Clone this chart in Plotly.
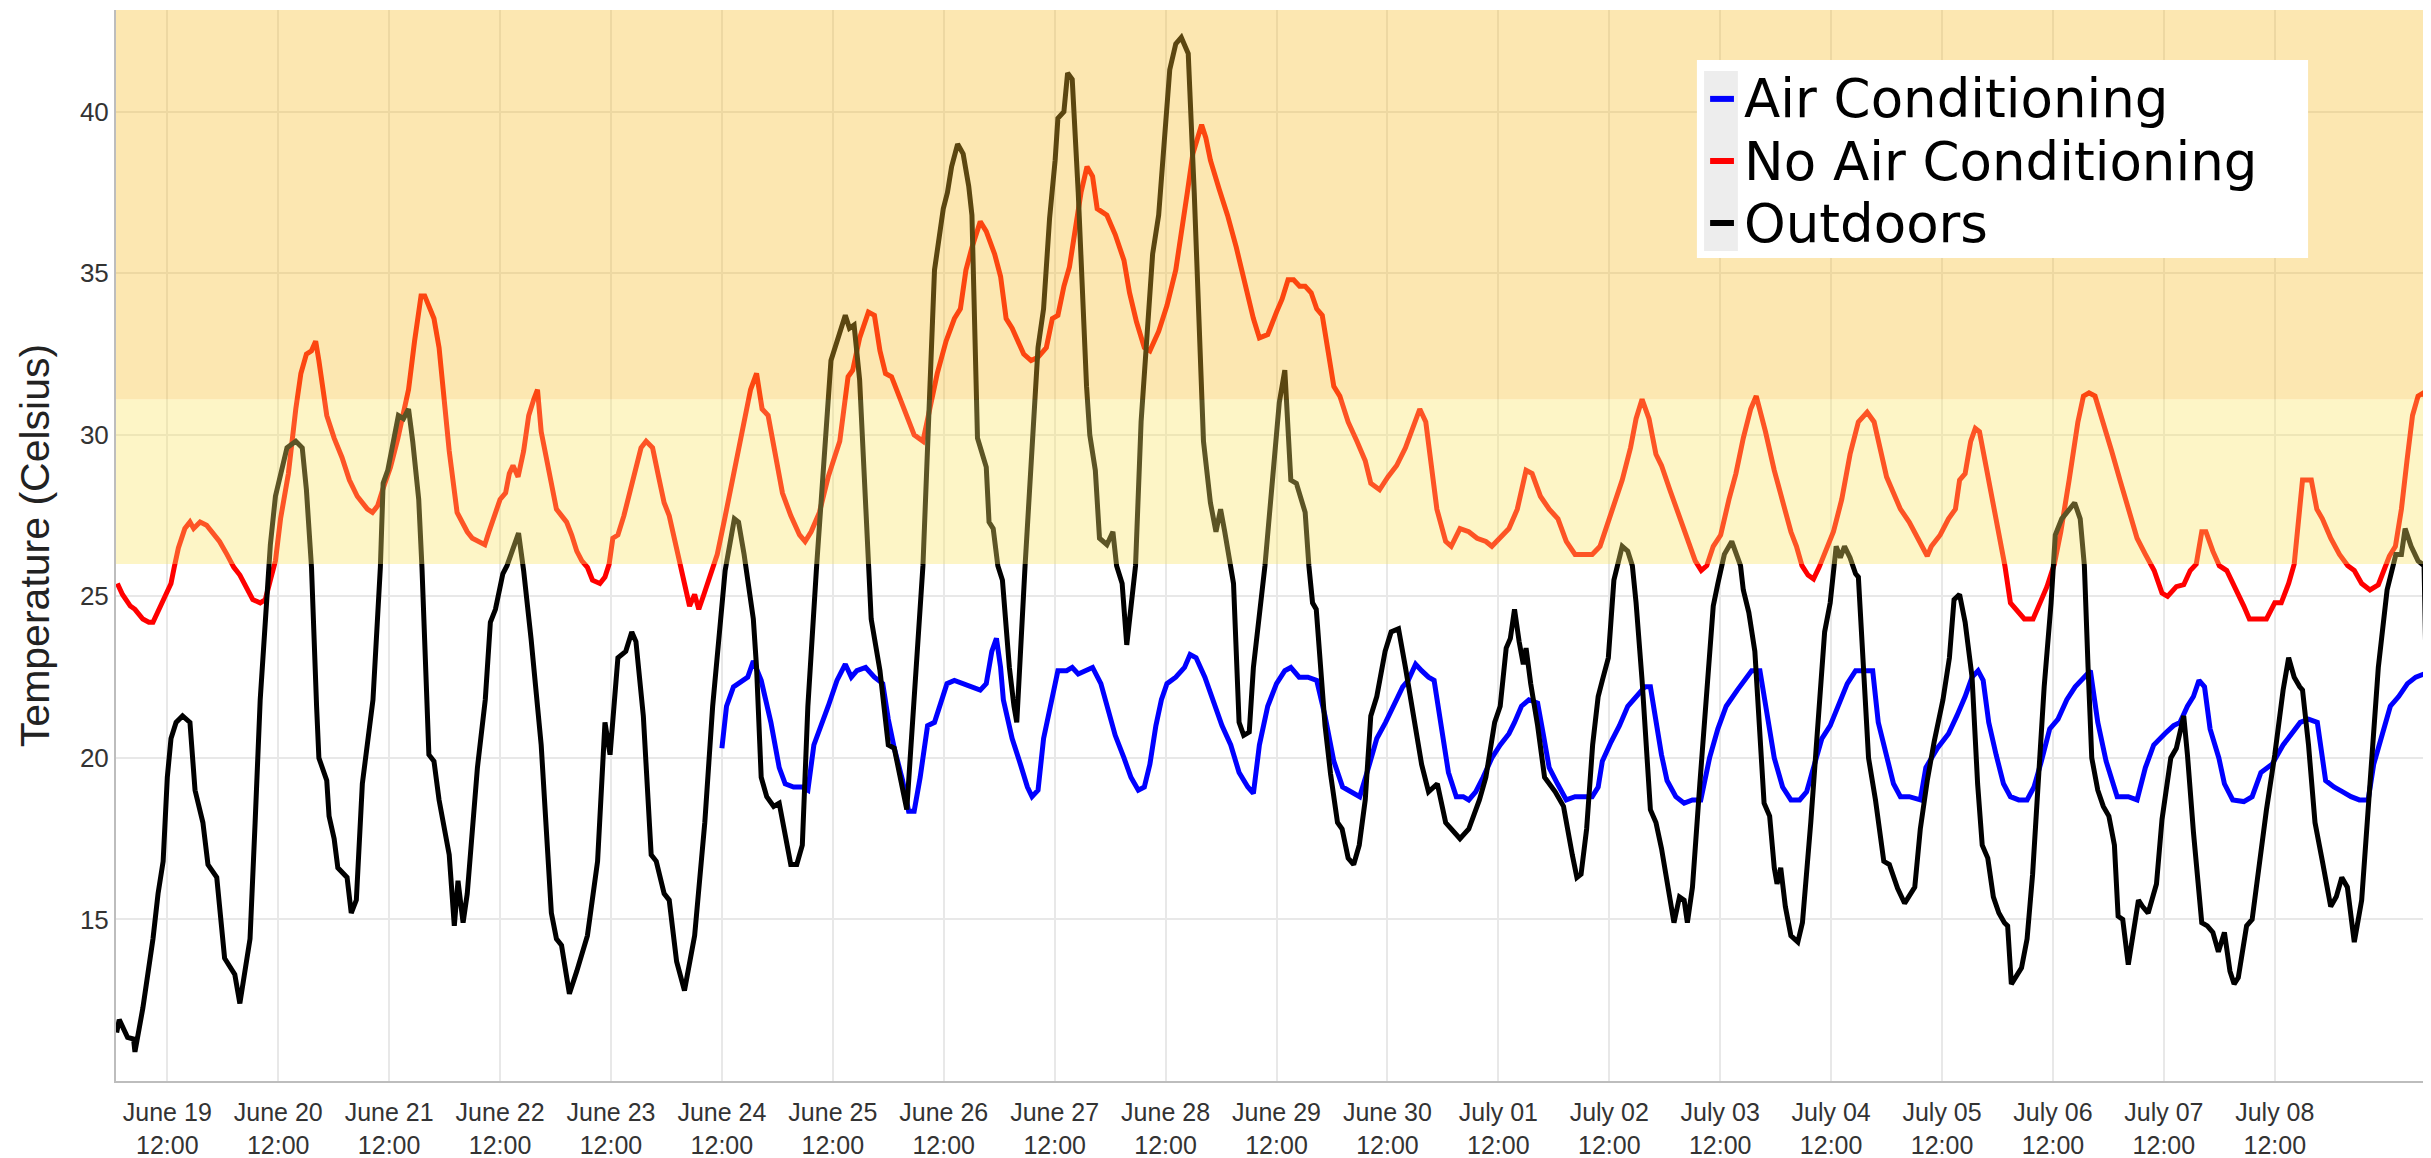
import pandas as pd
import plotly.graph_objects as go

START = pd.Timestamp("2015-06-19 00:00")

# ---------------- data (hours since June 19 00:00, temperature in Celsius) ----------------
outdoor_hours = [1.05, 1.6, 3.4, 4.7, 5.0, 6.7, 8.9, 10.0, 11.1, 12.0, 12.8, 13.9, 15.3, 16.9, 18.0, 19.7, 20.8, 22.7,
                 24.4, 26.6, 27.7, 29.9, 31.0, 32.1, 33.2, 34.3, 35.4, 36.6, 37.9, 39.8, 41.2, 42.1, 43.2, 44.3, 44.8,
                 46.5, 47.0, 48.1, 48.9, 50.9, 51.8, 52.9, 54.2, 56.5, 58.1, 58.7, 59.7, 62.0, 63.1, 64.2, 65.1, 66.4,
                 67.1, 68.6, 69.7, 70.8, 72.5, 73.0, 74.1, 74.9, 76.0, 76.9, 79.1, 80.8, 81.9, 83.0, 84.6, 85.5, 88.0,
                 89.1, 90.7, 92.9, 95.1, 96.2, 97.3, 99.0, 100.6, 102.9, 105.1, 106.7, 107.8, 109.5, 111.2, 112.5,
                 113.4, 115.0, 116.7, 117.8, 119.5, 120.6, 122.2, 123.9, 126.1, 128.3, 130.0, 131.6, 132.7, 134.7,
                 135.6, 136.8, 138.8, 139.5, 140.5, 141.7, 143.2, 144.4, 145.7, 146.9, 148.2, 149.4, 150.6, 152.5,
                 155.6, 157.5, 158.7, 159.6, 160.6, 161.8, 163.7, 164.3, 166.2, 168.0, 169.3, 170.5, 172.0, 175.5,
                 176.8, 178.0, 179.9, 180.8, 181.7, 183.0, 184.2, 185.4, 186.1, 187.3, 189.2, 189.8, 190.7, 191.7,
                 192.7, 194.2, 195.2, 195.8, 197.6, 198.5, 200.4, 201.6, 202.9, 204.1, 204.7, 206.0, 206.8, 207.8,
                 209.1, 210.9, 211.6, 212.8, 213.7, 215.3, 216.6, 217.4, 218.6, 219.6, 221.5, 222.7, 225.2, 226.5,
                 227.9, 228.9, 230.2, 231.4, 232.9, 234.2, 236.2, 237.7, 238.9, 239.9, 240.8, 242.0, 242.7, 243.9,
                 244.9, 246.1, 247.0, 249.5, 251.1, 252.6, 253.8, 255.1, 256.3, 258.2, 259.0, 259.8, 260.6, 262.5,
                 263.7, 265.2, 266.2, 267.5, 268.7, 269.9, 271.2, 272.4, 273.7, 275.5, 276.8, 278.4, 279.9, 281.8,
                 283.4, 284.9, 286.8, 288.6, 289.9, 291.7, 293.6, 295.9, 297.3, 299.2, 300.4, 301.7, 302.6, 303.5,
                 304.5, 305.4, 306.0, 307.0, 308.5, 310.0, 312.3, 314.1, 316.0, 317.0, 317.9, 319.1, 320.4, 321.6,
                 322.5, 323.8, 325.0, 326.8, 328.0, 329.0, 329.8, 331.1, 332.9, 334.1, 335.3, 336.5, 337.1, 338.0,
                 339.2, 340.2, 340.9, 342.0, 343.6, 345.1, 346.5, 347.5, 348.9, 350.5, 351.4, 352.4, 353.0, 354.2,
                 355.5, 356.7, 357.5, 358.7, 359.7, 360.3, 361.1, 362.1, 363.3, 364.8, 365.8, 367.6, 369.2, 370.6,
                 371.8, 373.1, 374.0, 374.9, 376.1, 377.3, 377.9, 379.1, 380.1, 381.6, 383.4, 384.6, 385.8, 386.4,
                 387.9, 388.9, 390.1, 391.3, 392.8, 394.3, 396.2, 397.6, 398.6, 399.8, 401.0, 402.5, 403.7, 404.7,
                 405.9, 407.1, 408.3, 409.5, 410.2, 411.0, 412.3, 413.2, 414.4, 415.6, 416.8, 418.1, 419.6, 420.5,
                 421.9, 423.5, 424.7, 425.9, 426.8, 427.6, 428.4, 429.7, 430.9, 432.1, 433.3, 434.1, 435.1, 436.3,
                 437.6, 438.5, 439.4, 440.6, 442.4, 443.6, 445.5, 446.7, 448.3, 449.1, 450.4, 452.2, 453.4, 454.6,
                 455.8, 457.1, 458.3, 459.2, 460.1, 461.9, 463.1, 464.3, 466.2, 468.0, 469.8, 471.0, 472.2, 473.4,
                 474.0, 475.3, 476.7, 478.3, 480.1, 481.3, 482.5, 483.7, 485.2, 486.8, 488.6, 490.4, 492.3, 494.2,
                 495.4, 496.2, 497.5, 499.0, 500.3, 500.8, 501.8]
outdoor_temp = [11.5, 11.9, 11.35, 11.3, 10.9, 12.25, 14.4, 15.8, 16.8, 19.4, 20.6, 21.1, 21.3, 21.1, 19.0, 18.0, 16.7, 16.3,
                13.8, 13.3, 12.4, 14.4, 18.0, 21.8, 24.2, 26.6, 28.1, 28.9, 29.6, 29.8, 29.6, 28.3, 25.9, 21.6, 20.0,
                19.3, 18.2, 17.5, 16.6, 16.3, 15.2, 15.6, 19.2, 21.8, 25.9, 28.5, 28.9, 30.6, 30.5, 30.8, 29.8, 28.0,
                25.9, 20.1, 19.9, 18.7, 17.4, 17.0, 14.8, 16.2, 14.9, 15.8, 19.7, 21.8, 24.2, 24.6, 25.7, 25.95, 26.96,
                25.8, 23.7, 20.4, 15.2, 14.4, 14.2, 12.7, 13.4, 14.5, 16.8, 21.1, 20.1, 23.1, 23.3, 23.9,
                23.6, 21.3, 17.0, 16.8, 15.8, 15.6, 13.7, 12.8, 14.5, 18.0, 21.6, 24.2, 25.8, 27.4,
                27.3, 26.3, 24.3, 22.8, 19.4, 18.8, 18.5, 18.6, 17.6, 16.7, 16.7, 17.3, 21.6, 25.95,
                32.3, 33.1, 33.7, 33.3, 33.4, 31.7, 26.2, 24.3, 22.7, 20.4, 20.3, 19.4, 18.4, 25.95,
                31.0, 35.1, 37.0, 37.5, 38.3, 39.0, 38.7, 37.7, 36.8, 29.9, 29.0, 27.3, 27.1, 25.95,
                25.5, 22.8, 21.6, 21.1, 25.95, 28.2, 32.7, 33.9, 36.7, 38.5, 39.8, 40.0, 41.2, 41.0,
                37.5, 31.5, 30.0, 28.9, 26.8, 26.6, 27.0, 25.95, 25.4, 23.5, 25.95, 30.4, 35.6, 36.8,
                39.6, 41.3, 42.1, 42.3, 41.8, 37.5, 29.8, 27.9, 27.0, 27.7, 27.0, 25.95, 25.4, 21.1,
                20.7, 20.8, 22.8, 25.95, 28.7, 31.0, 32.0, 28.6, 28.5, 27.6, 25.95, 24.8, 24.6, 21.0,
                19.5, 18.0, 17.8, 16.9, 16.7, 17.3, 18.7, 21.3, 21.9, 23.3, 23.9, 24.0, 22.8, 21.2,
                19.8, 18.95, 19.2, 18.0, 17.8, 17.5, 17.8, 18.7, 19.4, 21.1, 21.6, 23.4, 23.7, 24.6,
                23.6, 22.9, 23.4, 22.3, 21.0, 19.4, 18.95, 18.5, 17.0, 16.3, 16.4, 17.8, 20.4, 21.9,
                22.4, 23.1, 25.5, 26.55, 26.4, 25.95, 24.8, 22.4, 18.4, 18.0, 17.2, 16.2, 15.8, 14.9,
                15.7, 15.6, 14.9, 16.0, 19.2, 22.2, 24.7, 25.4, 26.3, 26.7, 26.3, 25.95, 25.2, 24.5,
                23.3, 20.4, 18.6, 18.2, 16.6, 16.1, 16.6, 15.4, 14.5, 14.3, 14.9, 18.0, 21.0, 23.9,
                24.8, 26.55, 26.2, 26.55, 26.2, 25.7, 25.6, 22.2, 20.0, 18.7, 16.8, 16.7, 16.2, 15.96,
                15.5, 15.7, 16.0, 17.8, 19.3, 20.5, 21.8, 23.1, 24.9, 25.06, 24.2, 22.5, 19.2, 17.3,
                16.9, 15.7, 15.2, 14.9, 14.8, 13.0, 13.3, 13.5, 14.4, 16.4, 19.2, 22.2, 24.8, 26.9,
                27.4, 27.7, 27.9, 27.4, 25.95, 22.8, 20.0, 19.0, 18.5, 18.2, 17.3, 15.1, 15.0, 13.6,
                14.9, 15.6, 15.4, 15.2, 16.1, 18.1, 20.0, 20.3, 21.3, 20.1, 17.7, 14.9, 14.8, 14.6,
                14.0, 14.6, 13.4, 13.0, 13.2, 14.8, 15.0, 16.4, 18.4, 20.1, 22.1, 23.1, 22.5, 22.2,
                22.1, 20.4, 18.0, 16.8, 15.4, 15.7, 16.3, 16.0, 14.3, 15.6, 18.95, 22.8, 25.2, 26.3,
                26.3, 27.1, 26.55, 26.1, 25.95, 22.2, 18.2]

noac_hours = [1.2, 2.3, 4.0, 5.0, 6.7, 8.0, 8.9, 10.5, 11.7, 12.8, 13.5, 14.4, 15.8, 16.9, 17.7, 19.1, 20.5, 21.6, 23.3,
              24.9, 26.4, 27.7, 29.4, 30.5, 32.1, 33.2, 34.3, 35.4, 36.5, 38.2, 39.8, 40.9, 42.1, 43.2, 44.1, 44.8,
              46.5, 48.1, 49.8, 51.4, 53.1, 54.2, 55.3, 56.4, 57.5, 58.6, 60.3, 61.9, 63.1, 64.2, 65.5, 66.9, 67.7,
              68.6, 69.7, 70.8, 71.9, 73.0, 74.7, 75.8, 76.9, 78.0, 79.6, 80.7, 81.6, 82.9, 84.0, 85.2, 86.0, 86.8,
              87.9, 89.1, 90.2, 91.3, 92.1, 92.9, 94.0, 95.1, 96.2, 97.3, 98.4, 99.5, 100.6, 101.7, 102.9, 104.0,
              105.6, 106.7, 107.6, 108.4, 109.5, 110.8, 112.2, 113.4, 114.5, 115.6, 117.0, 118.3, 119.5, 120.6,
              121.7, 122.8, 123.9, 125.0, 126.1, 127.0, 128.1, 129.4, 131.0, 132.6, 135.7, 138.2, 139.5, 140.7,
              142.0, 143.8, 145.1, 146.9, 148.8, 150.0, 151.3, 153.1, 155.0, 157.5, 158.7, 159.3, 160.3, 161.8,
              163.7, 165.0, 166.2, 167.4, 168.7, 170.5, 172.4, 173.6, 175.5, 176.7, 178.6, 180.5, 182.3, 183.6,
              184.8, 186.1, 187.9, 189.2, 191.0, 192.3, 193.5, 194.8, 196.0, 197.3, 198.9, 200.4, 202.2, 203.5,
              204.7, 206.0, 207.2, 208.5, 209.7, 211.0, 212.2, 213.2, 214.1, 215.3, 217.1, 219.0, 220.2, 221.7,
              223.4, 224.6, 226.5, 228.3, 230.2, 231.5, 232.7, 233.9, 235.2, 235.8, 236.7, 237.7, 239.6, 241.4,
              243.3, 245.2, 247.0, 248.3, 250.1, 252.0, 253.2, 254.5, 255.7, 257.0, 258.2, 259.5, 260.7, 261.9,
              263.2, 264.4, 265.7, 267.5, 269.4, 271.2, 272.4, 274.3, 276.1, 278.0, 279.9, 281.8, 283.0, 284.3,
              285.5, 286.7, 288.6, 289.8, 291.7, 293.6, 295.4, 297.3, 298.6, 300.4, 302.3, 304.1, 306.0, 307.3,
              309.1, 311.0, 312.9, 314.7, 316.6, 318.5, 320.3, 322.0, 323.8, 325.6, 326.8, 328.6, 329.8, 331.1,
              332.6, 334.1, 335.3, 337.1, 339.0, 340.8, 342.6, 343.9, 345.1, 346.5, 348.1, 349.9, 351.4, 353.0,
              354.6, 355.8, 356.6, 357.8, 359.7, 361.5, 363.3, 364.5, 365.7, 367.0, 368.2, 369.4, 370.6, 372.5,
              374.3, 376.1, 377.9, 379.8, 381.3, 382.8, 384.0, 385.5, 387.0, 388.9, 391.3, 392.8, 393.7, 395.6,
              397.4, 398.9, 399.8, 401.0, 402.2, 403.2, 404.1, 404.9, 405.9, 407.1, 408.3, 409.6, 410.8, 412.0,
              413.8, 415.7, 416.9, 418.7, 420.3, 421.7, 423.5, 425.4, 426.6, 427.8, 429.1, 430.9, 432.7, 434.5,
              436.4, 438.2, 440.0, 441.9, 443.6, 444.8, 446.7, 448.3, 449.7, 451.0, 452.2, 453.1, 454.6, 456.0,
              457.6, 459.4, 461.3, 462.5, 464.3, 466.2, 468.0, 469.4, 471.0, 472.2, 474.0, 475.9, 477.1, 478.3,
              480.1, 482.0, 483.8, 485.2, 486.8, 488.6, 490.4, 491.6, 492.8, 494.1, 495.4, 496.6, 497.8, 499.0,
              500.2, 501.8]
noac_temp = [25.4, 25.06, 24.7, 24.6, 24.3, 24.2, 24.2, 24.7, 25.06, 25.4, 25.9, 26.5, 27.1, 27.3, 27.1, 27.3, 27.2, 27.0, 26.7,
             26.3, 25.9, 25.66, 25.2, 24.9, 24.8, 24.9, 25.5, 26.1, 27.4, 28.8, 30.8, 31.9, 32.5, 32.6, 32.9, 32.3,
             30.6, 29.9, 29.3, 28.6, 28.1, 27.9, 27.7, 27.6, 27.8, 28.3, 29.0, 29.9, 30.6, 31.4, 32.9, 34.3, 34.3,
             34.0, 33.6, 32.7, 30.95, 29.5, 27.6, 27.3, 27.0, 26.8, 26.7, 26.6, 27.0, 27.6, 28.0, 28.2, 28.8, 29.05,
             28.7, 29.5, 30.6, 31.1, 31.4, 30.1, 29.3, 28.6, 27.7, 27.5, 27.3, 26.9, 26.4, 26.1, 25.9, 25.5,
             25.4, 25.6, 26.0, 26.8, 26.9, 27.5, 28.3, 28.9, 29.6, 29.8, 29.6, 28.7, 27.9, 27.5,
             26.8, 26.1, 25.4, 24.7, 25.06, 24.6, 25.06, 25.66, 26.3, 27.4, 29.6, 31.4, 31.9, 30.8,
             30.6, 29.2, 28.2, 27.5, 26.9, 26.7, 27.0, 27.6, 28.7, 29.8, 31.1, 31.8, 32.0, 33.0,
             33.8, 33.7, 32.6, 31.9, 31.8, 31.1, 30.4, 30.0, 29.8, 30.6, 31.9, 32.9, 33.6, 33.9,
             35.1, 35.8, 36.6, 36.3, 35.6, 34.9, 33.6, 33.3, 32.9, 32.5, 32.3, 32.4, 32.7, 33.6,
             33.7, 34.6, 35.2, 36.4, 37.5, 38.3, 38.0, 37.0, 36.9, 36.8, 36.2, 35.4, 34.4, 33.5,
             32.7, 32.6, 33.2, 34.0, 35.1, 36.5, 37.5, 38.7, 39.4, 39.6, 39.2, 38.5, 37.6, 36.8,
             35.8, 34.6, 33.6, 33.0, 33.1, 33.8, 34.2, 34.8, 34.8, 34.6, 34.6, 34.4, 33.9, 33.7,
             32.5, 31.5, 31.2, 30.4, 29.8, 29.2, 28.5, 28.3, 28.7, 29.05, 29.6, 30.4, 30.8, 30.4,
             29.05, 27.7, 26.7, 26.55, 27.1, 27.0, 26.8, 26.7, 26.55, 26.8, 27.1, 27.7, 28.9, 28.8,
             28.1, 27.7, 27.4, 26.7, 26.3, 26.3, 26.3, 26.55, 27.3, 28.1, 28.6, 29.6, 30.5, 31.1,
             30.5, 29.4, 29.05, 28.3, 27.5, 26.8, 26.1, 25.8, 25.95, 26.55, 26.9, 28.0, 28.8, 29.9,
             30.8, 31.2, 30.8, 30.1, 28.9, 28.0, 27.0, 26.55, 25.95, 25.66, 25.54, 25.9, 26.3, 27.0,
             28.0, 29.4, 30.4, 30.7, 30.4, 29.4, 28.7, 28.2, 27.7, 27.3, 26.7, 26.25, 26.55, 26.9,
             27.4, 27.7, 28.6, 28.8, 29.8, 30.2, 30.1, 29.5, 28.7, 28.0, 27.0, 25.95, 24.8, 24.6,
             24.3, 24.3, 24.7, 25.3, 26.0, 27.0, 28.6, 30.4, 31.2, 31.3, 31.2, 30.4, 29.5, 28.6,
             27.6, 26.8, 26.3, 25.8, 25.1, 25.0, 25.3, 25.36, 25.8, 26.0, 27.0, 27.0, 26.4, 25.95,
             25.8, 25.3, 24.7, 24.3, 24.3, 24.3, 24.8, 24.8, 25.4, 26.0, 28.6, 28.6, 27.7, 27.4,
             26.8, 26.3, 25.95, 25.8, 25.4, 25.2, 25.36, 25.8, 26.25, 26.55, 27.7, 29.2, 30.6, 31.2,
             31.3, 30.8]

ac_hours = [132.0, 133.0, 134.5, 136.4, 137.6, 138.8, 140.5, 142.6, 144.4, 145.7, 147.5, 149.4, 150.6, 151.9, 153.8,
            155.0, 156.9, 158.7, 160.0, 161.2, 163.1, 165.0, 166.8, 168.0, 169.3, 171.1, 172.4, 173.6, 174.9, 176.5,
            178.0, 179.2, 180.7, 182.3, 184.2, 186.1, 187.9, 189.2, 190.4, 191.4, 192.3, 192.9, 194.8, 196.6, 198.1,
            199.1, 200.4, 201.6, 203.1, 204.7, 206.6, 207.8, 209.1, 210.9, 212.2, 214.0, 215.9, 217.1, 219.0, 220.5,
            222.1, 223.4, 224.6, 225.9, 227.1, 228.3, 230.2, 232.1, 233.3, 234.6, 236.5, 238.3, 240.2, 242.1, 243.9,
            245.8, 247.0, 248.3, 250.1, 252.0, 253.8, 255.1, 256.9, 258.8, 260.7, 262.5, 264.4, 266.3, 268.2, 270.0,
            271.9, 273.7, 275.6, 277.4, 279.3, 280.5, 282.1, 283.4, 284.9, 286.1, 287.4, 289.2, 290.9, 292.4, 293.6,
            295.1, 296.7, 298.6, 300.4, 302.3, 303.5, 305.0, 306.6, 308.5, 309.7, 311.0, 312.8, 314.7, 316.6, 318.4,
            320.3, 321.6, 322.5, 324.4, 326.2, 328.0, 329.8, 331.7, 332.9, 334.1, 335.3, 336.5, 338.4, 340.2, 342.0,
            343.8, 345.7, 347.5, 349.3, 351.7, 353.6, 354.8, 356.6, 357.8, 359.7, 361.5, 363.3, 365.2, 366.7, 368.2,
            370.0, 371.8, 373.7, 375.5, 377.3, 379.1, 381.0, 382.2, 384.0, 385.5, 387.0, 388.9, 391.3, 392.5, 395.0,
            397.4, 399.2, 401.0, 402.5, 403.8, 404.9, 406.1, 407.7, 409.3, 410.8, 412.6, 414.4, 415.9, 417.5, 419.3,
            421.1, 423.0, 424.8, 426.6, 428.1, 429.7, 431.5, 433.9, 436.3, 438.2, 440.0, 441.8, 443.0, 444.2, 446.1,
            447.5, 449.1, 450.4, 451.6, 452.8, 454.0, 455.9, 457.1, 458.9, 461.3, 463.1, 465.0, 467.4, 469.8, 471.7,
            473.5, 475.3, 477.2, 479.0, 480.8, 482.7, 484.5, 486.3, 488.2, 489.4, 491.2, 493.0, 494.8, 496.7, 498.5,
            500.3, 501.9]
ac_temp = [20.3, 21.6, 22.2, 22.4, 22.5, 23.0, 22.4, 21.1, 19.7, 19.2, 19.1, 19.1, 19.0, 20.4, 21.1,
           21.6, 22.4, 22.9, 22.5, 22.7, 22.8, 22.5, 22.3, 21.2, 20.3, 19.3, 18.35, 18.35, 19.4, 21.0,
           21.1, 21.6, 22.3, 22.4, 22.3, 22.2, 22.1, 22.3, 23.3, 23.7, 22.8, 21.8, 20.6, 19.8, 19.1,
           18.8, 19.0, 20.6, 21.6, 22.7, 22.7, 22.8, 22.6, 22.7, 22.8, 22.3, 21.3, 20.7, 20.0, 19.4,
           19.0, 19.1, 19.8, 21.0, 21.8, 22.3, 22.5, 22.8, 23.2, 23.1, 22.5, 21.8, 21.0, 20.4, 19.55,
           19.1, 18.9, 20.4, 21.6, 22.3, 22.7, 22.8, 22.5, 22.5, 22.4, 21.3, 19.9, 19.1, 18.95, 18.8,
           19.7, 20.6, 21.1, 21.6, 22.2, 22.4, 22.9, 22.7, 22.5, 22.4, 21.3, 19.55, 18.8, 18.8, 18.7,
           18.95, 19.4, 20.0, 20.4, 20.75, 21.1, 21.6, 21.8, 21.7, 20.75, 19.7, 19.2, 18.7, 18.8, 18.8,
           18.8, 19.1, 19.9, 20.5, 21.0, 21.6, 21.9, 22.2, 22.2, 21.1, 20.1, 19.3, 18.8, 18.6, 18.7,
           18.7, 20.0, 20.9, 21.6, 22.1, 22.5, 22.7, 22.7, 21.6, 20.0, 19.1, 18.7, 18.7, 18.95, 19.7,
           20.6, 21.0, 21.7, 22.3, 22.7, 22.7, 22.7, 21.1, 20.0, 19.2, 18.8, 18.8, 18.7, 19.7, 20.3,
           20.75, 21.3, 21.9, 22.5, 22.7, 22.4, 21.1, 20.1, 19.2, 18.8, 18.7, 18.7, 19.1, 19.9, 20.9,
           21.2, 21.8, 22.2, 22.5, 22.7, 21.1, 19.9, 18.8, 18.8, 18.7, 19.7, 20.4, 20.6, 20.75, 21.0,
           21.1, 21.6, 21.9, 22.4, 22.2, 20.9, 20.0, 19.2, 18.7, 18.65, 18.8, 19.55, 19.8, 20.4, 20.75,
           21.1, 21.2, 21.1, 19.3, 19.1, 18.95, 18.8, 18.7, 18.7, 19.8, 20.75, 21.6, 21.9, 22.3, 22.5,
           22.6, 22.5]

series_names = ["Air Conditioning", "No Air Conditioning", "Outdoors"]
series_colors = ["#0000ff", "#ff0000", "#000000"]

tick_days = ["June 19", "June 20", "June 21", "June 22", "June 23", "June 24", "June 25", "June 26",
             "June 27", "June 28", "June 29", "June 30", "July 01", "July 02", "July 03", "July 04",
             "July 05", "July 06", "July 07", "July 08"]
tick_time = "12:00"
y_ticks = [15, 20, 25, 30, 35, 40]

comfort_band = [26, 31.1]     # lighter band
hot_band = [31.1, 43.15]      # darker band


def to_time(hours):
    return [START + pd.Timedelta(hours=h) for h in hours]


fig = go.Figure()
for name, color, hrs, vals in [
    (series_names[0], series_colors[0], ac_hours, ac_temp),
    (series_names[1], series_colors[1], noac_hours, noac_temp),
    (series_names[2], series_colors[2], outdoor_hours, outdoor_temp),
]:
    fig.add_trace(go.Scatter(x=to_time(hrs), y=vals, mode="lines", name=name,
                             line=dict(color=color, width=5)))

tickvals = [START + pd.Timedelta(hours=12 + 24 * k) for k in range(len(tick_days))]
ticktext = [f"{d}<br>{tick_time}" for d in tick_days]

FONT = "Liberation Sans, Arial, Helvetica, sans-serif"
LEGEND_FONT = "DejaVu Sans, Liberation Sans, sans-serif"

# the page body keeps its default 8px margin, so the figure is 8px smaller than the window
fig.update_layout(
    width=2423, height=1150,
    margin=dict(l=108, r=0, t=2, b=77),
    plot_bgcolor="white", paper_bgcolor="white",
    showlegend=False,
    font=dict(family=FONT, size=25, color="#333333"),
)
fig.update_xaxes(
    range=[START + pd.Timedelta(hours=0.9), START + pd.Timedelta(hours=501.8)],
    tickvals=tickvals, ticktext=ticktext, ticks="",
    ticklabelstandoff=8,
    showgrid=True, gridcolor="#e8e8e8", gridwidth=1.5,
    showline=True, linecolor="#bdbdbd", linewidth=2, zeroline=False,
    tickfont=dict(family=FONT, size=25, color="#333333"),
    automargin=False,
)
fig.update_yaxes(
    range=[10, 43.15], tickvals=y_ticks, ticks="",
    showgrid=True, gridcolor="#e8e8e8", gridwidth=1.5,
    showline=True, linecolor="#bdbdbd", linewidth=2, zeroline=False,
    tickfont=dict(family=FONT, size=26, color="#333333"),
    title=dict(text="Temperature (Celsius)", font=dict(family=FONT, size=41, color="#222222"), standoff=18),
    automargin=False,
)

# translucent temperature bands drawn over the lines
fig.add_shape(type="rect", xref="paper", yref="y", x0=0, x1=1, y0=comfort_band[0], y1=comfort_band[1],
              fillcolor="rgb(250,228,101)", opacity=0.37, line=dict(width=0), layer="above")
fig.add_shape(type="rect", xref="paper", yref="y", x0=0, x1=1, y0=hot_band[0], y1=hot_band[1],
              fillcolor="rgb(247,190,44)", opacity=0.37, line=dict(width=0), layer="above")

# legend box
fig.add_shape(type="rect", xref="paper", yref="paper", x0=0.6829, x1=0.9469, y0=0.7684, y1=0.9533,
              fillcolor="white", line=dict(width=0), layer="above")
fig.add_shape(type="rect", xref="paper", yref="paper", x0=0.6860, x1=0.7006, y0=0.775, y1=0.943,
              fillcolor="#ededed", line=dict(width=0), layer="above")
legend_rows = [0.9170, 0.8590, 0.8011]
for name, color, yr in zip(series_names, series_colors, legend_rows):
    fig.add_shape(type="line", xref="paper", yref="paper", x0=0.6886, x1=0.6989, y0=yr, y1=yr,
                  line=dict(color=color, width=6), layer="above")
    fig.add_annotation(x=0.7028, y=yr, xref="paper", yref="paper", text=name, showarrow=False,
                       xanchor="left", yanchor="middle", borderpad=0,
                       font=dict(family=LEGEND_FONT, size=53, color="#000000"))

fig.write_html("out.html")
